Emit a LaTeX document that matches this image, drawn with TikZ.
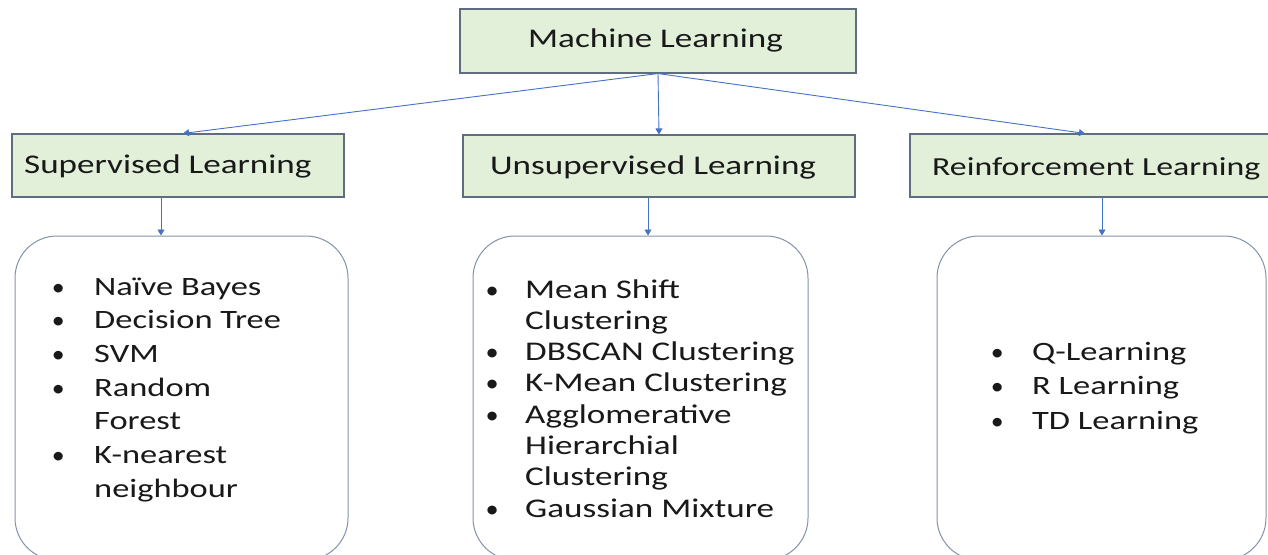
\documentclass[tikz,border=0pt]{standalone}
\usepackage{fontspec}
\setmainfont{Carlito}[FakeStretch=1.3]
\usetikzlibrary{arrows.meta,calc}
\definecolor{boxfill}{HTML}{E2EFD9}
\definecolor{boxline}{HTML}{5E6E80}
\definecolor{arrowc}{HTML}{4472C4}
\definecolor{listline}{HTML}{8393AA}
\newcommand{\mybul}[1]{\makebox[#1]{\scalebox{0.75}[0.92]{•}}}
\tikzset{
  head/.style={draw=boxline, fill=boxfill, line width=1.1pt, inner sep=0pt},
  headtext/.style={anchor=base west, inner sep=0pt, font=\fontsize{27}{32}\selectfont, text=black!90},
  listbox/.style={draw=listline, line width=1pt, rounded corners=42pt, inner sep=0pt},
  listtext/.style={anchor=base west, inner sep=0pt, text=black!90},
  arr/.style={draw=arrowc, line width=0.9pt, -{Triangle[width=7pt,length=6pt]}}
}
\begin{document}
\begin{tikzpicture}[x=1pt,y=-1pt]
\useasboundingbox (0,0) rectangle (1268,554);
\clip (0,0) rectangle (1268,554);
\fill[white] (0,0) rectangle (1268,554);

% heading boxes
\node[head, minimum width=396pt, minimum height=64pt] (ml) at (658,41) {};
\node[head, minimum width=332pt, minimum height=63pt] (sup) at (178,165.5) {};
\node[head, minimum width=392pt, minimum height=62pt] (uns) at (659,166) {};
\node[head, minimum width=380pt, minimum height=63pt] (rei) at (1100,165.5) {};

% list boxes
\node[listbox, minimum width=333pt, minimum height=324pt] (l1) at (181.5,398) {};
\node[listbox, minimum width=335pt, minimum height=324pt] (l2) at (640.5,398) {};
\node[listbox, minimum width=329pt, minimum height=324pt] (l3) at (1101.5,398) {};

% heading texts
\node[headtext] (mlt) at (528,47) {Machine Learning};
\node[headtext] (supt) at (24,173) {Supervised Learning};
\node[headtext] (unst) at (490,174) {Unsupervised Learning};
\node[headtext, font=\fontsize{26}{32}\selectfont] (reit) at (932,175) {Reinforcement Learning};

% list texts
\node[listtext, font=\fontsize{26.5}{33.7}\selectfont] (l1t) at (22,295) {%
\begin{tabular}[t]{@{}c@{}l@{}}
\mybul{72pt} & Naïve Bayes\\
\mybul{72pt} & Decision Tree\\
\mybul{72pt} & SVM\\
\mybul{72pt} & Random\\
 & Forest\\
\mybul{72pt} & K-nearest\\
 & neighbour
\end{tabular}};

\node[listtext, font=\fontsize{27}{31.3}\selectfont] (l2t) at (459,298) {%
\begin{tabular}[t]{@{}c@{}l@{}}
\mybul{66pt} & Mean Shift\\
 & Clustering\\
\mybul{66pt} & DBSCAN Clustering\\
\mybul{66pt} & K-Mean Clustering\\
\mybul{66pt} & Agglomerative\\
 & Hierarchial\\
 & Clustering\\
\mybul{66pt} & Gaussian Mixture
\end{tabular}};

\node[listtext, font=\fontsize{26.5}{34.5}\selectfont] (l3t) at (962,360) {%
\begin{tabular}[t]{@{}c@{}l@{}}
\mybul{70pt} & Q-Learning\\
\mybul{70pt} & R Learning\\
\mybul{70pt} & TD Learning
\end{tabular}};

% connectors
\draw[arr] (ml.south) -- ($(sup.north)+(5,0)$);
\draw[arr] (ml.south) -- (uns.north);
\draw[arr] (ml.south) -- ($(rei.north)+(-15,0)$);
\draw[arr] (161,0 |- sup.south) -- (161,0 |- l1.north);
\draw[arr] (648,0 |- uns.south) -- (648,0 |- l2.north);
\draw[arr] (1102,0 |- rei.south) -- (1102,0 |- l3.north);
\end{tikzpicture}
\end{document}
